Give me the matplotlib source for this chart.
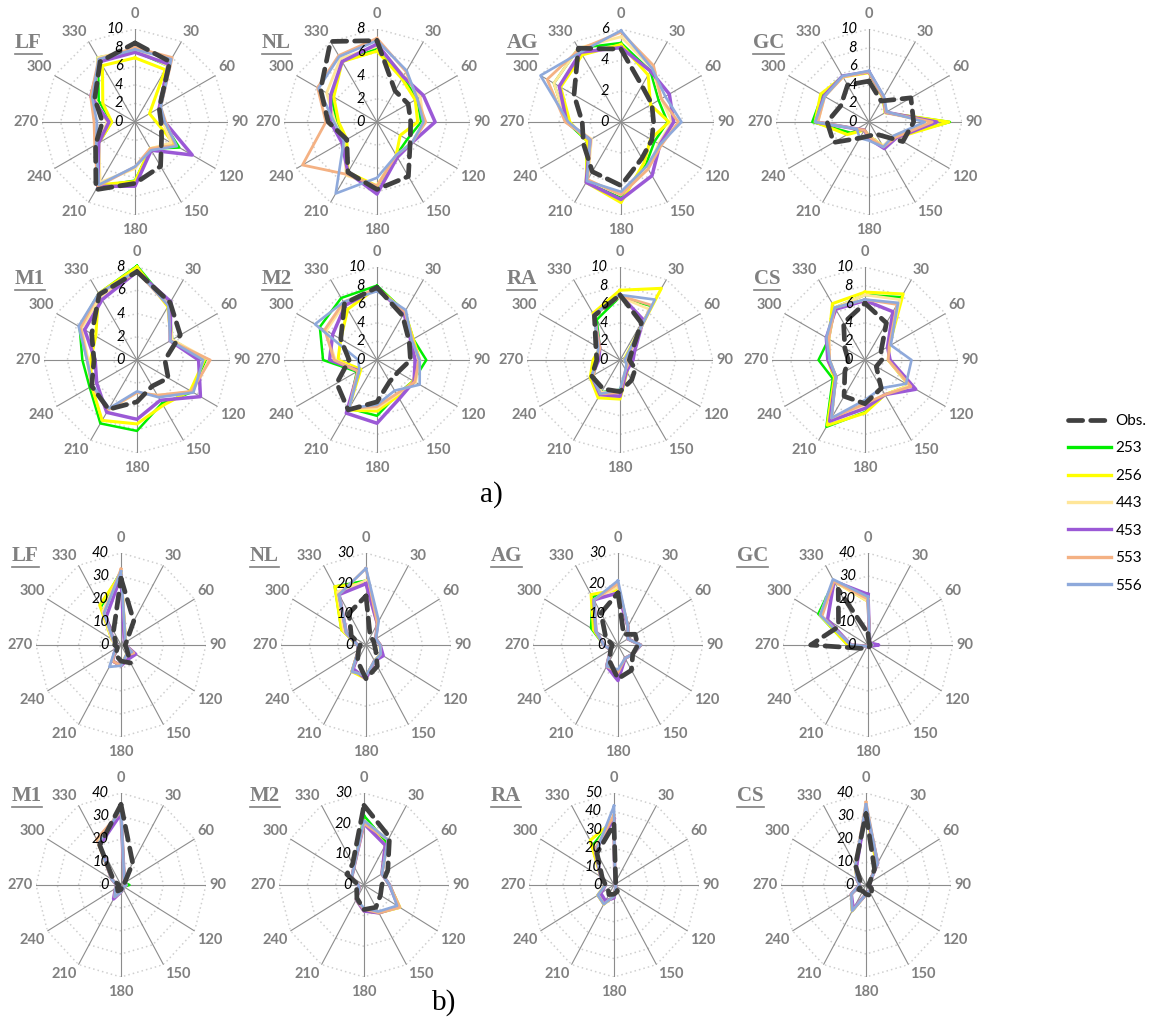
import numpy as np
import matplotlib.pyplot as plt
from matplotlib.lines import Line2D
from matplotlib.transforms import offset_copy

plt.rcParams['font.family'] = ['Lato', 'DejaVu Sans']

# wind directions (degrees, clockwise from north)
angles = [0, 30, 60, 90, 120, 150, 180, 210, 240, 270, 300, 330]
series = ['Obs.', '253', '256', '443', '453', '553', '556']
colors = ['#404040', '#00EE00', '#FFFF00', '#FFE699', '#9B59D6', '#F4B183', '#8EA9DB']
widths = [3.4, 1.8, 2.2, 2.0, 2.5, 2.0, 1.9]

# a) rows: Obs, 253, 256, 443, 453, 553, 556
a_LF = [[8.5, 7.5, 3.0, 2.8, 3.3, 5.5, 6.6, 8.4, 4.9, 3.5, 5.0, 7.5],
        [7.6, 7.0, 3.0, 3.0, 5.5, 3.3, 6.3, 8.0, 4.5, 2.5, 4.5, 8.0],
        [6.9, 6.5, 1.8, 2.3, 5.0, 3.3, 6.4, 7.8, 4.5, 2.5, 4.0, 7.0],
        [7.8, 7.0, 3.0, 3.0, 4.5, 3.3, 5.0, 7.5, 4.5, 3.0, 5.0, 8.0],
        [7.5, 7.2, 3.0, 3.2, 7.1, 3.5, 6.9, 8.0, 4.5, 2.8, 5.5, 7.5],
        [8.0, 8.0, 3.2, 3.3, 5.0, 3.3, 4.8, 8.0, 5.0, 4.4, 5.5, 7.8],
        [7.8, 7.8, 3.2, 3.2, 5.2, 3.5, 4.8, 7.8, 4.8, 4.1, 5.3, 7.8]]
a_NL = [[7.0, 3.1, 3.1, 2.9, 3.3, 5.4, 5.8, 5.0, 3.0, 4.2, 5.6, 8.0],
        [6.3, 4.5, 4.0, 3.8, 3.0, 3.3, 5.6, 5.0, 3.3, 3.5, 4.5, 6.0],
        [6.1, 4.3, 3.8, 3.5, 2.3, 3.3, 5.5, 5.0, 3.0, 3.3, 4.3, 6.0],
        [6.5, 4.6, 4.3, 4.0, 3.5, 3.3, 5.5, 5.3, 3.3, 3.6, 5.0, 6.3],
        [6.7, 4.5, 4.6, 5.0, 3.5, 3.5, 6.2, 5.0, 3.5, 4.0, 4.6, 6.0],
        [7.2, 5.0, 4.0, 4.2, 3.5, 3.3, 5.5, 5.2, 7.4, 4.4, 5.9, 6.6],
        [7.0, 5.1, 4.0, 4.0, 3.5, 3.3, 4.8, 7.1, 3.3, 3.7, 5.8, 6.5]]
a_AG = [[4.7, 2.7, 2.3, 2.1, 2.3, 2.7, 4.1, 3.7, 2.8, 2.5, 3.5, 5.5],
        [5.1, 3.8, 2.8, 3.0, 2.5, 3.2, 4.9, 4.5, 2.5, 3.5, 5.0, 5.5],
        [5.0, 3.5, 2.2, 3.1, 2.2, 3.0, 5.2, 4.5, 2.5, 3.3, 4.5, 5.0],
        [5.5, 4.0, 3.0, 3.3, 2.8, 3.5, 4.7, 4.3, 2.2, 3.5, 5.0, 5.5],
        [4.8, 3.8, 3.6, 3.4, 2.9, 4.0, 5.0, 4.5, 2.3, 3.5, 4.6, 5.2],
        [5.8, 4.2, 3.0, 3.7, 3.0, 3.5, 4.7, 4.3, 2.3, 3.6, 5.5, 5.4],
        [5.9, 4.0, 3.3, 3.9, 2.9, 3.3, 4.5, 4.4, 2.3, 3.4, 6.0, 5.2]]
a_GC = [[4.4, 2.6, 5.2, 4.8, 4.2, 1.5, 1.5, 2.0, 4.4, 4.5, 3.5, 4.6],
        [5.4, 3.0, 2.0, 8.7, 3.2, 3.0, 1.5, 1.0, 2.3, 6.1, 5.8, 5.7],
        [5.3, 3.0, 2.0, 8.6, 3.4, 3.0, 1.5, 1.0, 2.7, 5.8, 6.0, 5.6],
        [5.4, 3.1, 2.0, 6.5, 3.0, 3.0, 1.5, 1.0, 1.5, 5.5, 5.5, 5.6],
        [5.4, 3.1, 2.1, 7.3, 3.4, 3.3, 1.8, 1.0, 1.5, 5.7, 5.6, 5.7],
        [5.4, 3.1, 2.1, 6.8, 3.3, 3.1, 1.6, 1.0, 1.5, 5.5, 5.5, 5.6],
        [5.5, 3.2, 2.2, 6.0, 3.0, 3.1, 2.0, 2.0, 1.5, 5.8, 5.5, 5.7]]
a_M1 = [[7.6, 5.7, 4.3, 2.4, 3.1, 2.6, 3.6, 4.9, 4.5, 3.7, 4.5, 6.5],
        [8.1, 5.5, 3.5, 5.9, 5.5, 4.3, 6.1, 6.3, 4.7, 4.7, 5.7, 6.6],
        [8.0, 5.3, 3.4, 5.8, 5.3, 4.5, 5.5, 6.0, 4.5, 4.0, 4.1, 6.6],
        [7.7, 5.5, 3.5, 6.2, 5.5, 3.5, 2.8, 5.0, 4.5, 4.2, 5.5, 6.3],
        [7.6, 5.8, 3.3, 5.3, 6.3, 4.0, 5.1, 5.2, 4.0, 3.6, 5.2, 6.0],
        [7.6, 5.4, 3.3, 6.3, 5.4, 3.5, 2.8, 4.9, 4.5, 4.3, 5.6, 6.6],
        [7.7, 5.4, 3.3, 5.7, 5.6, 3.7, 2.7, 4.8, 4.4, 4.3, 5.8, 6.6]]
a_M2 = [[7.8, 5.5, 4.0, 3.6, 2.6, 2.7, 4.5, 6.2, 5.0, 3.0, 4.5, 7.0],
        [8.0, 6.0, 4.5, 5.3, 4.5, 4.3, 6.0, 6.0, 2.5, 5.8, 7.1, 7.7],
        [7.8, 6.0, 4.5, 4.6, 4.5, 4.5, 5.5, 6.2, 2.0, 4.2, 4.5, 6.3],
        [7.6, 5.8, 4.3, 4.6, 4.8, 4.3, 5.2, 6.0, 2.3, 4.5, 6.3, 7.0],
        [7.7, 5.8, 4.2, 4.1, 4.6, 4.8, 6.8, 6.6, 2.3, 5.1, 5.5, 6.8],
        [7.7, 6.0, 4.4, 4.5, 4.7, 4.2, 5.0, 6.0, 2.4, 4.6, 6.5, 7.2],
        [7.4, 6.2, 4.3, 4.6, 5.3, 3.8, 4.8, 6.0, 2.2, 2.0, 7.7, 7.2]]
a_RA = [[7.0, 4.6, 1.4, 1.0, 1.9, 2.5, 3.4, 3.6, 3.5, 2.5, 3.0, 5.5],
        [6.8, 6.7, 1.0, 0.5, 1.0, 1.5, 3.2, 4.0, 3.3, 2.5, 2.5, 5.0],
        [7.5, 8.9, 0.7, 0.5, 1.0, 1.5, 4.2, 4.7, 3.7, 2.9, 2.5, 5.8],
        [6.8, 6.3, 1.0, 0.5, 1.0, 1.3, 3.6, 4.0, 3.5, 2.5, 2.5, 5.6],
        [7.0, 5.0, 1.8, 1.4, 1.2, 1.4, 3.9, 4.3, 3.5, 2.3, 2.5, 5.6],
        [6.9, 6.8, 1.0, 0.5, 1.0, 1.2, 3.5, 4.2, 3.3, 2.5, 2.5, 5.6],
        [7.0, 7.5, 0.8, 0.5, 0.8, 1.2, 3.2, 4.2, 3.5, 2.5, 2.7, 5.6]]
a_CS = [[6.1, 4.6, 2.0, 1.8, 1.4, 3.5, 4.7, 4.5, 2.5, 1.8, 2.5, 4.6],
        [7.0, 7.8, 3.0, 2.5, 5.5, 4.3, 5.6, 8.3, 4.0, 5.0, 4.5, 6.5],
        [7.3, 8.2, 3.0, 2.5, 5.5, 4.3, 5.7, 8.1, 3.8, 4.0, 4.5, 7.0],
        [7.0, 7.5, 3.0, 2.5, 5.5, 4.3, 4.8, 7.2, 3.6, 3.8, 4.5, 6.5],
        [6.4, 6.0, 2.8, 2.7, 6.3, 4.3, 5.2, 7.6, 3.6, 4.0, 4.8, 6.3],
        [6.5, 6.9, 3.0, 2.5, 5.7, 4.3, 4.7, 7.2, 3.6, 3.8, 4.5, 6.5],
        [6.5, 7.1, 3.2, 5.0, 5.1, 3.5, 4.3, 7.2, 3.6, 3.8, 4.8, 6.5]]

# b)
b_LF = [[29, 12, 3, 2, 3, 9, 7, 5, 2, 3, 3, 7],
        [32, 4, 2, 2, 7, 5, 9, 8, 3, 2, 5, 19],
        [31, 4, 2, 2, 7, 5, 9, 8, 3, 2, 5, 20],
        [32, 4, 2, 2, 7, 5, 9, 8, 3, 2, 5, 17],
        [30, 3, 2, 2, 8, 7, 9, 8, 3, 2, 4, 14],
        [33, 4, 2, 2, 7, 5, 9, 8, 3, 2, 4, 16],
        [32, 4, 2, 2, 6, 5, 9, 11, 3, 2, 4, 16]]
b_NL = [[16, 3, 3, 3, 4, 8, 11, 6, 3, 2, 6, 12],
        [21, 8, 4, 5, 6, 6, 10, 10, 3, 3, 10, 22],
        [20, 8, 4, 5, 6, 6, 11, 10, 3, 3, 10, 22],
        [21, 8, 4, 5, 6, 6, 10, 10, 3, 3, 9, 20],
        [20, 8, 4, 5, 7, 6, 11, 9, 3, 3, 8, 19],
        [25, 8, 4, 5, 6, 6, 10, 10, 3, 3, 8, 19],
        [25, 9, 4, 5, 6, 6, 10, 10, 3, 3, 8, 19]]
b_AG = [[17, 4, 7, 7, 6, 9.5, 11, 6, 3, 2, 5, 12],
        [19, 7, 4, 8, 6, 5, 10, 8, 3, 5, 11, 18],
        [18, 7, 4, 8, 6, 5, 10, 8, 3, 5, 10, 19],
        [19, 7, 4, 8, 6, 5, 10, 8, 3, 5, 9, 17],
        [17, 7, 4, 8, 6, 5, 11.6, 8, 3, 5, 9, 17],
        [20, 7, 4, 8, 6, 5, 9, 8, 3, 5, 9, 17],
        [21, 7, 4, 8, 6, 5, 8, 8, 3, 5, 9, 17]]
b_GC = [[5, 1, 1, 1, 1, 1, 1, 1.5, 3, 27, 16, 28],
        [20, 1.5, 1.5, 2, 1, 1, 1, 1, 1, 9.5, 27, 32],
        [19, 1.5, 1.5, 2, 1, 1, 1, 1, 1, 9.5, 26, 32],
        [19, 1.5, 1.5, 2, 1, 1, 1, 1, 1, 8, 26, 32],
        [22, 1.5, 1.5, 5, 1, 1, 1, 1, 1, 8, 22, 32],
        [20, 1.5, 1.5, 2, 1, 1, 1, 1, 1, 8, 25, 32],
        [21, 1.5, 1.5, 2, 1, 1, 1, 1, 1, 8, 26, 33]]
b_M1 = [[35, 11, 2, 2, 1, 1, 2, 3, 2, 1, 4, 20],
        [32, 3, 2, 4, 1.5, 2, 3, 6, 3, 2, 5, 22],
        [32, 3, 2, 2.5, 1.5, 2, 3, 6, 3, 2, 5, 21],
        [32, 3, 2, 2.5, 1.5, 2, 3, 6, 3, 2, 5, 22],
        [31, 3, 2, 2.5, 1.5, 2, 3, 7, 3, 2, 5, 20],
        [32, 3, 2, 2.5, 1.5, 2, 3, 6, 3, 2, 5, 23],
        [33, 3, 2, 2.5, 1.5, 2, 3, 6, 3, 2, 5, 21]]
b_M2 = [[26, 18, 9.7, 6.3, 6.7, 8.4, 8, 5, 3, 2, 7, 8],
        [22.6, 16, 7.3, 9, 14.6, 10.5, 7.9, 5.5, 2, 2, 5, 7],
        [21, 15, 7.3, 9, 14.6, 10.5, 8.5, 5.5, 2, 2, 5, 7],
        [21, 17, 7.3, 9, 14.6, 10.5, 7.9, 5.5, 2, 2, 5, 7],
        [20, 15, 7.3, 9, 14, 10.5, 8.5, 5.5, 2, 2, 5, 7],
        [20, 17, 7.3, 9, 14.6, 10.5, 7.9, 5.5, 2, 2, 5, 7],
        [21, 17, 7.3, 9, 13.5, 10, 7.5, 5.5, 2, 2, 5, 7]]
b_RA = [[33, 2, 1, 1, 2, 4, 5, 6, 4, 5, 8, 20],
        [36, 1, 1, 1, 1, 2, 6, 12, 11, 5, 9, 25],
        [35, 1, 1, 1, 1, 2, 6, 12, 11, 5, 9, 28],
        [38, 1, 1, 1, 1, 2, 6, 12, 11, 5, 9, 23],
        [36, 1, 1, 1, 1, 2, 7, 10, 9, 5, 9, 22],
        [38, 1, 1, 1, 1, 2, 6, 12, 11, 5, 9, 22],
        [43, 1, 1, 1, 1, 2, 6, 12, 11, 5, 9, 21]]
b_CS = [[31, 8, 2, 1, 3, 5.5, 4, 3, 4, 2, 3, 10],
        [33, 11, 2, 2, 3, 3, 4, 13, 8, 3, 5, 10],
        [32, 10, 2, 2, 3, 3, 4, 13, 8, 3, 5, 10],
        [34, 11, 2, 2, 3, 3, 4, 13, 8, 3, 5, 10],
        [33, 11, 2, 2, 3, 3, 4, 12, 8, 3, 5, 9],
        [36, 11, 2, 2, 3, 3, 4, 13, 8, 3, 5, 10],
        [35, 11, 2, 2, 3, 3, 4, 13, 8, 3, 5, 10]]

W, H = 1150, 1022
fig = plt.figure(figsize=(W / 100, H / 100), dpi=100)

# name, data, rmax, step, centre (px), title left/centre (px), radii (px)
panels = [
    ('LF', a_LF, 10, 2, 135, 122, 15, 43, 93, 93),
    ('NL', a_NL, 8, 2, 377, 122, 262, 43, 93, 93),
    ('AG', a_AG, 6, 2, 621, 122, 507, 43, 93, 93),
    ('GC', a_GC, 10, 2, 869, 122, 753, 43, 93, 93),
    ('M1', a_M1, 8, 2, 137, 360, 15, 279, 93, 93),
    ('M2', a_M2, 10, 2, 377, 360, 262, 279, 93, 93),
    ('RA', a_RA, 10, 2, 620, 360, 507, 279, 93, 93),
    ('CS', a_CS, 10, 2, 865, 360, 754, 279, 93, 93),
    ('LF', b_LF, 40, 10, 121, 645, 12, 556, 85, 92),
    ('NL', b_NL, 30, 10, 366, 645, 250, 556, 85, 92),
    ('AG', b_AG, 30, 10, 618, 645, 491, 556, 85, 92),
    ('GC', b_GC, 40, 10, 868, 645, 737, 556, 85, 92),
    ('M1', b_M1, 40, 10, 121, 885, 12, 796, 85, 92),
    ('M2', b_M2, 30, 10, 364, 885, 250, 796, 85, 92),
    ('RA', b_RA, 50, 10, 614, 885, 491, 796, 85, 92),
    ('CS', b_CS, 40, 10, 866, 885, 737, 796, 85, 92),
]

titles = []
for name, data, rmax, step, cx, cy, tx, ty, rx, ry in panels:
    ax = fig.add_axes([(cx - rx) / W, 1 - (cy + ry) / H, 2 * rx / W, 2 * ry / H],
                      projection='polar')
    ax.set_aspect('auto')
    ax.set_theta_zero_location('N')
    ax.set_theta_direction(-1)
    ax.set_ylim(0, rmax)
    ax.set_axis_off()

    th = np.deg2rad(angles + [angles[0]])
    ticks = np.arange(0, rmax + step / 2, step)
    for r in ticks[1:]:
        ax.plot(th, [r] * len(th), color='#CFCFCF', lw=1.1, ls=(0, (1, 2)), zorder=1)
    for a in angles:
        ax.plot([np.deg2rad(a)] * 2, [0, rmax], color='#8C8C8C', lw=0.8, zorder=1)

    for r in ticks:
        tr = offset_copy(ax.transData, fig=fig, x=-12, y=0, units='dots')
        ax.text(0, r, '%g' % r, transform=tr, ha='right', va='center',
                fontsize=10.5, style='italic', color='black', zorder=5)

    for a in angles:
        t = np.deg2rad(a)
        s, c = np.sin(t), np.cos(t)
        ha = 'left' if s > 0.1 else ('right' if s < -0.1 else 'center')
        va = 'bottom' if c > 0.1 else ('top' if c < -0.1 else 'center')
        d = 8 if abs(s) < 0.1 else 3
        tr = offset_copy(ax.transData, fig=fig, x=d * s, y=d * c, units='dots')
        ax.text(t, rmax, str(a), transform=tr, ha=ha, va=va, fontsize=10.5,
                fontweight='bold', color='#808080')

    for i in list(range(1, 7)) + [0]:
        vals = data[i] + [data[i][0]]
        if i == 0:
            ax.plot(th, vals, color=colors[0], lw=widths[0], dashes=(3, 1.7),
                    dash_capstyle='round', zorder=4, clip_on=False)
        else:
            ax.plot(th, vals, color=colors[i], lw=widths[i], zorder=3, clip_on=False)

    titles.append(fig.text(tx / W, 1 - ty / H, name, family='Liberation Serif',
                           fontweight='bold', fontsize=15, color='#808080',
                           ha='left', va='center'))

fig.text(491 / W, 1 - 495 / H, 'a)', family='Liberation Serif', fontsize=21,
         ha='center', va='center')
fig.text(444 / W, 1 - 1003 / H, 'b)', family='Liberation Serif', fontsize=21,
         ha='center', va='center')

handles = []
for i, lab in enumerate(series):
    if i == 0:
        handles.append(Line2D([], [], color=colors[0], lw=widths[0], dashes=(3, 1.7),
                              dash_capstyle='round'))
    else:
        handles.append(Line2D([], [], color=colors[i], lw=2.4))
fig.legend(handles, series, loc='upper left', bbox_to_anchor=(1068 / W, 1 - 414 / H),
           frameon=False, fontsize=11, handlelength=2.8, handletextpad=0.3,
           labelspacing=0.88, borderaxespad=0, borderpad=0)

# underline the station names
fig.canvas.draw()
rend = fig.canvas.get_renderer()
for t in titles:
    bb = t.get_window_extent(rend)
    y = bb.y0 - 1
    fig.add_artist(Line2D([bb.x0 / W, bb.x1 / W], [y / H, y / H], color='#808080', lw=1.2))

fig.savefig('out.png', dpi=100)
